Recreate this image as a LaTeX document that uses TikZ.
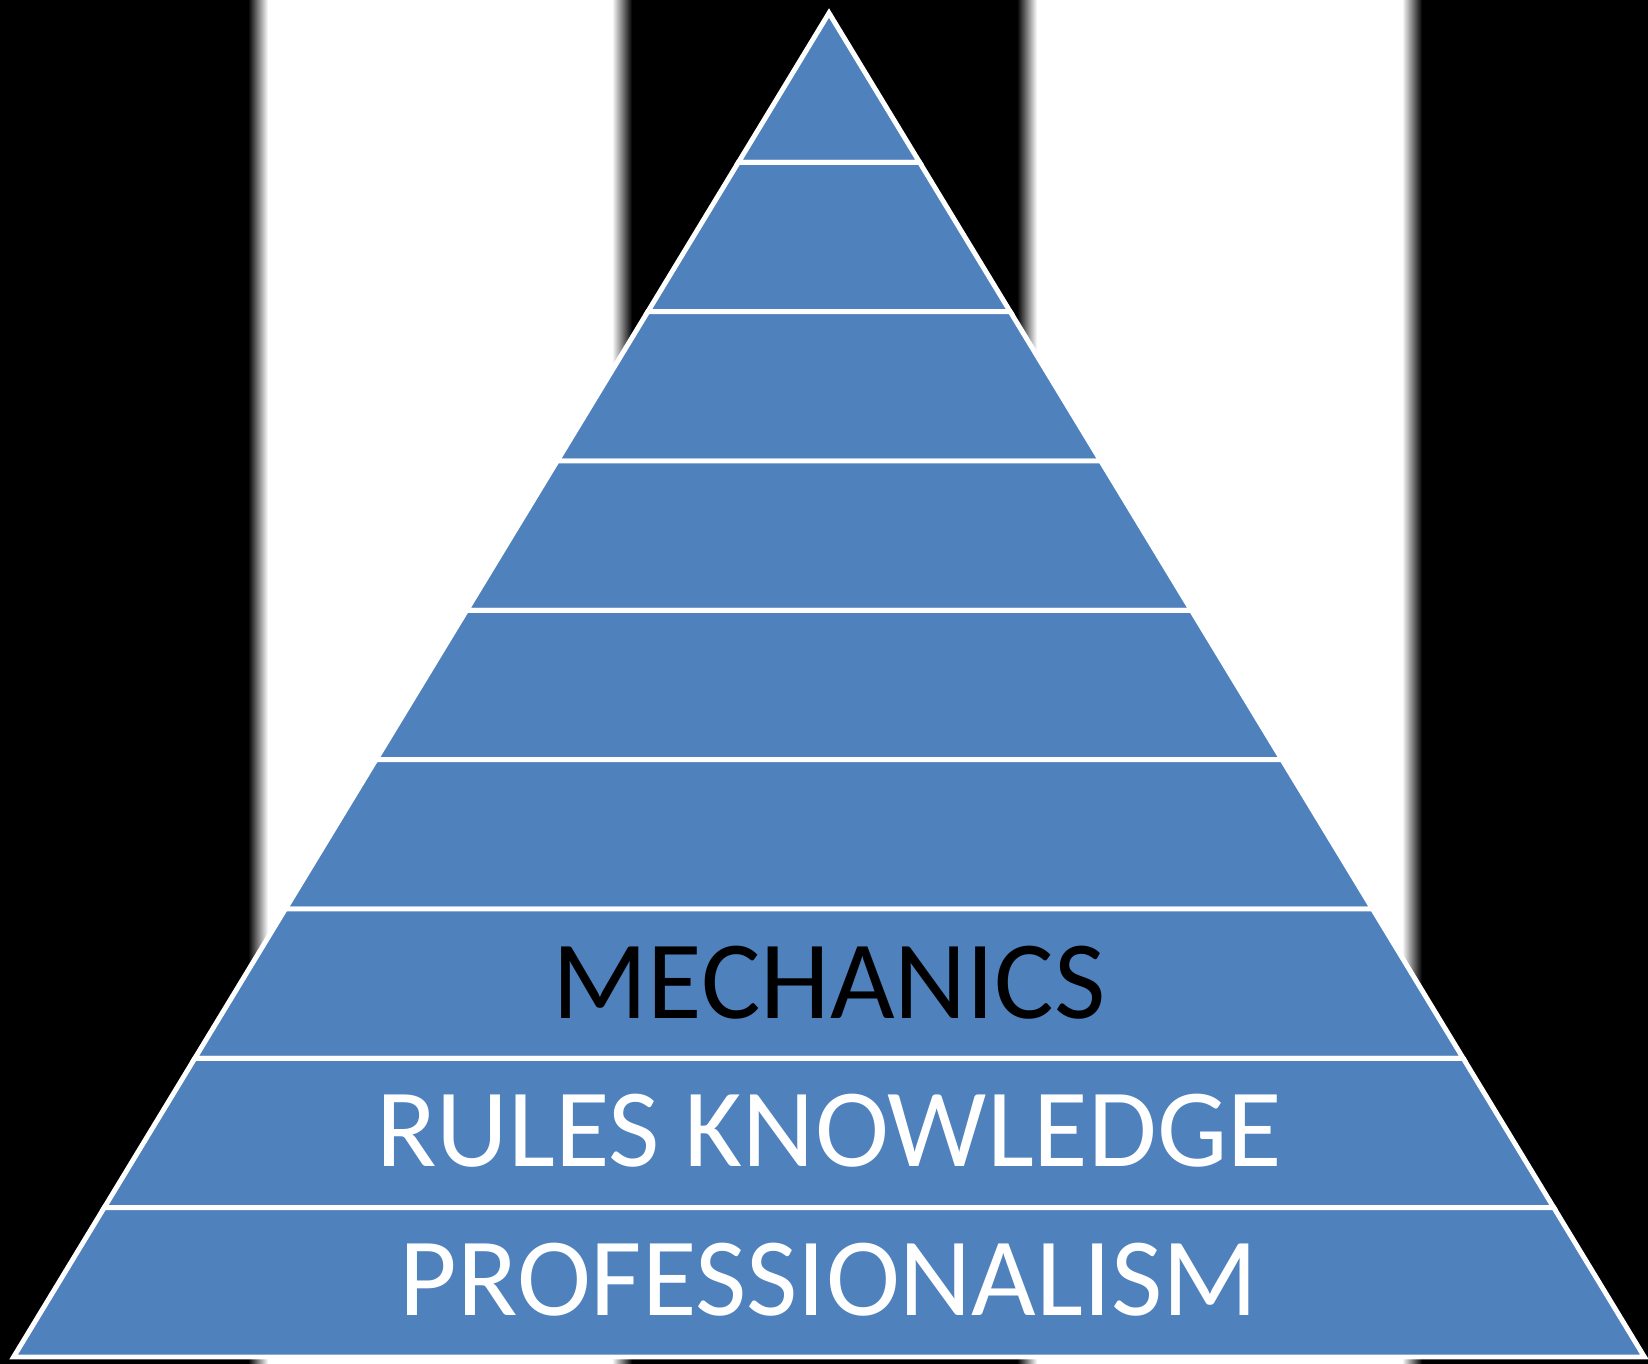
\documentclass[tikz,border=0pt]{standalone}
\usepackage{fontspec}
\setmainfont{Carlito}
\usepackage{tikz}
\usetikzlibrary{shapes,backgrounds}
\usepackage{xcolor}
\definecolor{pyrblue}{RGB}{79,129,189}

\begin{document}
\begin{tikzpicture}[x=0.02cm,y=-0.02cm,
  tier/.style={fill=pyrblue,draw=white,line width=2.8pt},
  tiertext/.style={inner sep=0pt,font=\fontsize{63.5}{70}\selectfont}]
  \useasboundingbox (0,0) rectangle (1648,1364);
  \fill[black] (0,0) rectangle (1648,1364);
  \foreach \a/\b in {258/622,1027/1412}{
    \fill[white] (\a+10,0) rectangle (\b-10,1364);
    \shade[left color=black,right color=white] (\a-10,0) rectangle (\a+10,1364);
    \shade[left color=white,right color=black] (\b-10,0) rectangle (\b+10,1364);
  }
  \foreach \i in {0,...,8}{
    \pgfmathsetmacro\yt{13+149.33*\i}
    \pgfmathsetmacro\yb{13+149.33*(\i+1)}
    \pgfmathsetmacro\wt{90.6*\i}
    \pgfmathsetmacro\wb{90.6*(\i+1)}
    \draw[tier] (829-\wt,\yt) -- (829+\wt,\yt) -- (829+\wb,\yb) -- (829-\wb,\yb) -- cycle;
  }
  \node[tiertext] (mech) at (829,983) {MECHANICS};
  \node[tiertext,text=white] (rules) at (829,1131) {RULES KNOWLEDGE};
  \node[tiertext,text=white] (prof) at (829,1280) {PROFESSIONALISM};
  % \node[tiertext] at (829,834) {};
\end{tikzpicture}
\end{document}
